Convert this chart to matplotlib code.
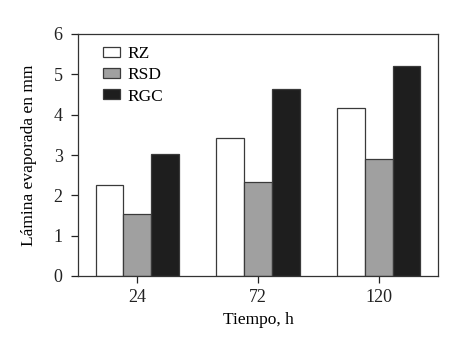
import matplotlib
matplotlib.use("Agg")
import matplotlib.pyplot as plt
import numpy as np

categories = ["24", "72", "120"]
series_names = ["RZ", "RSD", "RGC"]
rz = [2.26, 3.42, 4.16]
rsd = [1.53, 2.34, 2.90]
rgc = [3.02, 4.63, 5.21]
yticks = [0, 1, 2, 3, 4, 5, 6]

plt.rcParams['font.family'] = ['Liberation Serif', 'DejaVu Serif']
plt.rcParams['font.size'] = 12

fig = plt.figure(figsize=(4.63, 3.40), dpi=100)
ax = fig.add_axes([78/463, 1-276/340, 360/463, 242/340])

x = np.arange(len(categories))
w = 0.23
colors = ["#ffffff", "#a0a0a0", "#1e1e1e"]
edge = "#3a3a3a"
for i, (vals, name, c) in enumerate(zip([rz, rsd, rgc], series_names, colors)):
    ax.bar(x + (i - 1) * w, vals, width=w, color=c, edgecolor=edge, linewidth=0.9, label=name)

ax.set_xlim(-0.49, 2.49)
ax.set_ylim(0, 6)
ax.set_xticks(x)
ax.set_xticklabels(categories)
ax.set_yticks(yticks)
ax.tick_params(direction="out", length=5, width=0.9, colors="#222222", labelsize=13, pad=4)
ax.tick_params(axis="y", pad=6)
for s in ax.spines.values():
    s.set_linewidth(0.9)
    s.set_color("#333333")
ax.set_xlabel("Tiempo, h", fontsize=12.5, labelpad=5)
ax.set_ylabel("Lámina evaporada en mm", fontsize=12.5, labelpad=12)

leg = ax.legend(loc="upper left", frameon=False, fontsize=12.5, handlelength=1.0, handleheight=0.5,
                handletextpad=0.4, labelspacing=0.3, borderaxespad=0.3, bbox_to_anchor=(0.035, 1.0))

fig.savefig("out.png", dpi=100)
